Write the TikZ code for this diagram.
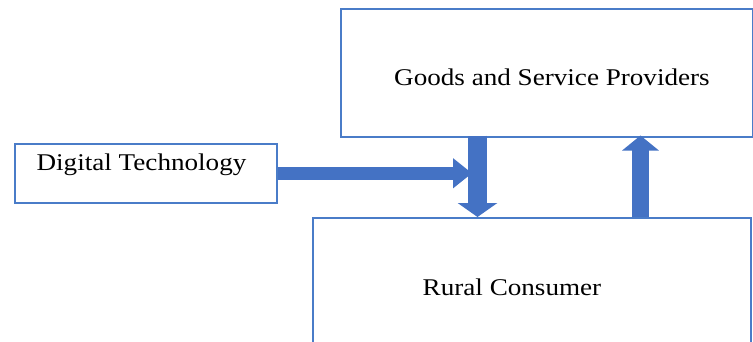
\documentclass[tikz,border=0pt]{standalone}
\usepackage{fontspec}
\setmainfont[FakeStretch=1.13]{Liberation Serif}
\usetikzlibrary{arrows.meta}
\definecolor{boxblue}{HTML}{4A7CC8}
\definecolor{arrowblue}{HTML}{4472C4}
\tikzset{
  box/.style={draw=boxblue, line width=1.5pt, fill=white, inner sep=0pt, anchor=north west},
  lbl/.style={inner sep=0pt, font=\fontsize{24}{28}\selectfont, text=black},
  flow/.style={draw=arrowblue, line cap=butt}
}
\begin{document}
\begin{tikzpicture}[x=1pt, y=-1pt]
  \clip (0,0) rectangle (753,341);
  \fill[white] (0,0) rectangle (753,341);
  % boxes
  \node[box, minimum width=412pt, minimum height=128pt] (goods) at (340,8) {};
  \node[box, minimum width=262pt, minimum height=59pt] (digital) at (14,143) {};
  \node[box, minimum width=438pt, minimum height=150pt] (rural) at (312,217) {};
  % labels
  \node[lbl] (tgoods) at (552,77) {Goods and Service Providers};
  \node[lbl] (tdigital) at (141.5,165) {Digital Technology};
  \node[lbl] (trural) at (512,287) {Rural Consumer};
  % providers to consumer
  \draw[flow, line width=19pt, -{Triangle[width=39pt, length=14pt]}]
    ([xshift=137.5pt, yshift=2pt]goods.south west) -- ([xshift=165.5pt]rural.north west);
  % consumer to providers
  \draw[flow, line width=17pt, -{Triangle[width=36pt, length=15pt]}]
    ([xshift=328.5pt]rural.north west) -- ([xshift=300.5pt, yshift=2pt]goods.south west);
  % technology feeding the flow
  \coordinate (hit) at ([xshift=132pt]goods.south west |- digital.east);
  \draw[flow, line width=13pt, -{Triangle[width=29pt, length=19pt]}]
    (digital.east) -- (hit);
\end{tikzpicture}
\end{document}
